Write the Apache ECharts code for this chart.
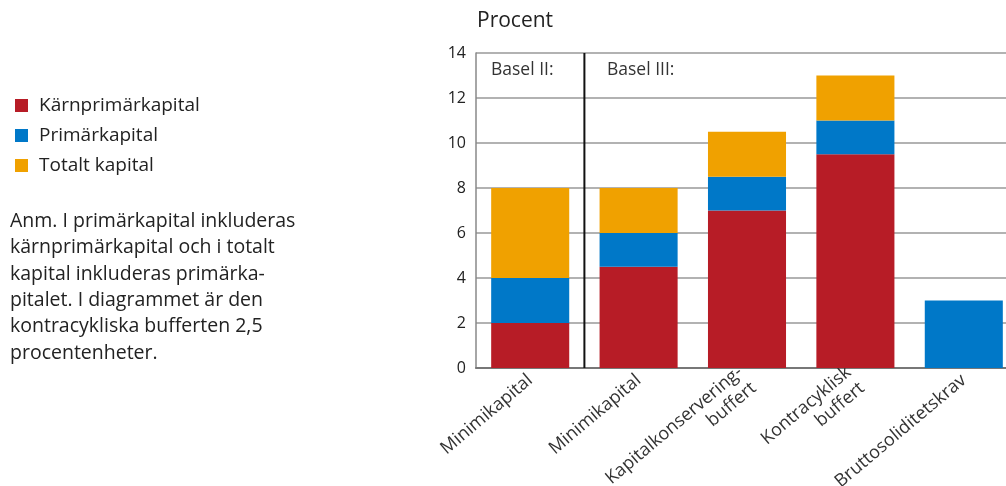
<!DOCTYPE html>
<html>
<head>
<meta charset="utf-8">
<script src="https://cdn.jsdelivr.net/npm/echarts@6/dist/echarts.min.js"></script>
<style>
  html, body { margin: 0; padding: 0; background: #fff; }
  #main { width: 1006px; height: 486px; }
</style>
</head>
<body>
<div id="main"></div>
<script>
// kategorier och värden (procent)
const categories = ['Minimikapital', 'Minimikapital', 'Kapitalkonservering-\nbuffert', 'Kontracyklisk\nbuffert', 'Bruttosoliditetskrav']
const karnprimar = [2, 4.5, 7, 9.5, '-']
const primar = [2, 1.5, 1.5, 1.5, 3]
const totalt = [4, 2, 2, 2, '-']
const yTicks = { min: 0, max: 14, interval: 2 }
// skiljelinje mellan Basel II och Basel III (kategoriindex, procent)
const divider = [[0.5, 0], [0.5, 14]]
const noteText = 'Anm. I primärkapital inkluderas\nkärnprimärkapital och i totalt\nkapital inkluderas primärka-\npitalet. I diagrammet är den\nkontracykliska bufferten 2,5\nprocentenheter.'

const font = '"Open Sans", Lato, sans-serif'
const chart = echarts.init(document.getElementById('main'))

chart.setOption({
  animation: false,
  textStyle: { fontFamily: font },
  title: {
    text: 'Procent',
    left: 472,
    top: 6,
    textStyle: { fontSize: 21, fontWeight: 'normal', color: '#222', fontFamily: font }
  },
  legend: {
    orient: 'vertical',
    left: 10,
    top: 91,
    itemWidth: 13,
    itemHeight: 13,
    itemGap: 11,
    icon: 'rect',
    textStyle: { fontSize: 19, color: '#222', padding: [0, 0, 0, 6] },
    data: ['Kärnprimärkapital', 'Primärkapital', 'Totalt kapital']
  },
  graphic: [
    {
      type: 'text',
      left: 10,
      top: 208,
      style: { text: noteText, fontSize: 19.5, lineHeight: 26.4, fill: '#222', fontFamily: font }
    },
    {
      type: 'text',
      left: 491,
      top: 61,
      style: { text: 'Basel II:', fontSize: 17.5, fill: '#333', fontFamily: font }
    },
    {
      type: 'text',
      left: 607,
      top: 61,
      style: { text: 'Basel III:', fontSize: 17.5, fill: '#333', fontFamily: font }
    }
  ],
  grid: {
    left: 476,
    right: -12,
    top: 53,
    bottom: 118,
    outerBoundsMode: 'none'
  },
  xAxis: [
    {
      type: 'category',
      data: categories,
      axisTick: { show: false },
      axisLine: { lineStyle: { color: '#777', width: 2 } },
      axisLabel: {
        rotate: 40,
        fontSize: 18,
        color: '#333',
        margin: 10,
        interval: 0,
        lineHeight: 21
      }
    },
    {
      // hjälpaxel för skiljelinjen
      type: 'value',
      min: -0.5,
      max: 4.5,
      show: false
    }
  ],
  yAxis: {
    type: 'value',
    min: yTicks.min,
    max: yTicks.max,
    interval: yTicks.interval,
    axisLine: { show: true, onZero: false, lineStyle: { color: '#888', width: 1.5 } },
    axisTick: { show: false },
    axisLabel: { fontSize: 16, color: '#222', margin: 10 },
    splitLine: { lineStyle: { color: '#999', width: 1.5 } }
  },
  series: [
    {
      name: 'Kärnprimärkapital',
      type: 'bar',
      stack: 'kap',
      barCategoryGap: '28%',
      itemStyle: { color: '#b71c26' },
      data: karnprimar
    },
    {
      name: 'Primärkapital',
      type: 'bar',
      stack: 'kap',
      itemStyle: { color: '#0078c8' },
      data: primar
    },
    {
      name: 'Totalt kapital',
      type: 'bar',
      stack: 'kap',
      itemStyle: { color: '#f0a100' },
      data: totalt
    },
    {
      name: 'divider',
      type: 'line',
      xAxisIndex: 1,
      silent: true,
      symbol: 'none',
      lineStyle: { color: '#111', width: 2 },
      z: 5,
      data: divider
    }
  ]
})
</script>
</body>
</html>
